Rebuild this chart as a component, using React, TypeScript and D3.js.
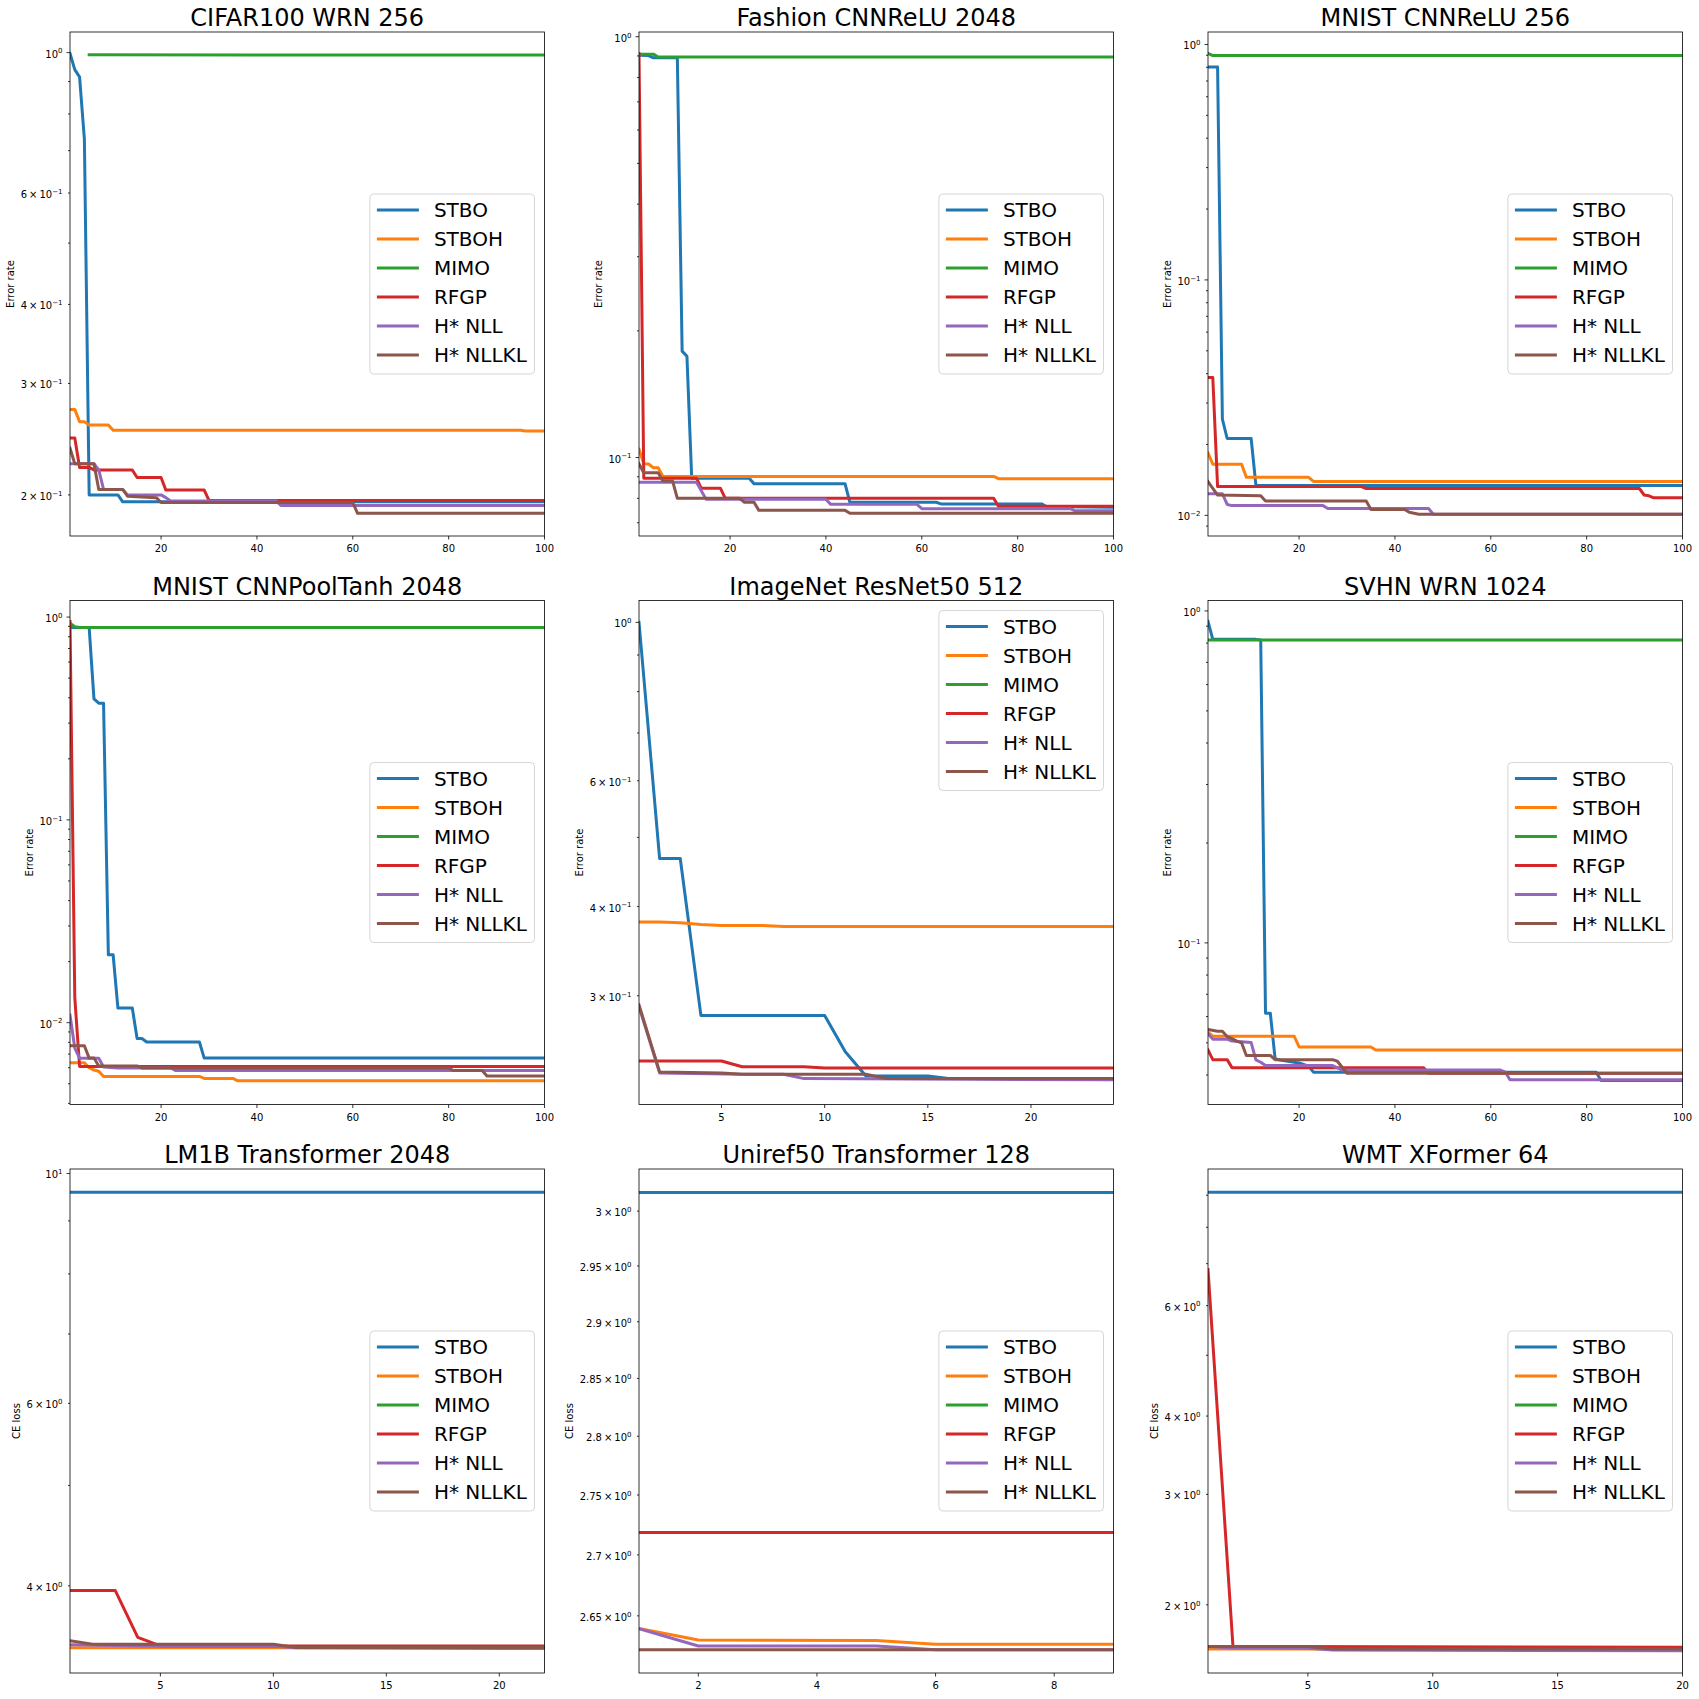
import React, { useEffect, useRef } from 'react';
import * as d3 from 'd3';

type Pt = [number, number];

const seriesNames = ['STBO', 'STBOH', 'MIMO', 'RFGP', 'H* NLL', 'H* NLLKL'];
const seriesColors = ['#1f77b4', '#ff7f0e', '#2ca02c', '#d62728', '#9467bd', '#8c564b'];

const panelTitles = [
  'CIFAR100 WRN 256',
  'Fashion CNNReLU 2048',
  'MNIST CNNReLU 256',
  'MNIST CNNPoolTanh 2048',
  'ImageNet ResNet50 512',
  'SVHN WRN 1024',
  'LM1B Transformer 2048',
  'Uniref50 Transformer 128',
  'WMT XFormer 64',
];
const panelYLabels = [
  'Error rate', 'Error rate', 'Error rate',
  'Error rate', 'Error rate', 'Error rate',
  'CE loss', 'CE loss', 'CE loss',
];

// each panel: [STBO, STBOH, MIMO, RFGP, H* NLL, H* NLLKL] as [trial, best value] vertices
const cifarWrn256: Pt[][] = [
  [[1, 0.997], [2, 0.94], [3, 0.915], [4, 0.73], [5, 0.2], [11, 0.2], [12, 0.195], [100, 0.195]],
  [[1, 0.273], [2, 0.273], [3, 0.261], [4, 0.261], [5, 0.258], [9, 0.258], [10, 0.253], [95, 0.253], [96, 0.2524], [100, 0.2524]],
  [[5, 0.992], [100, 0.991]],
  [[1, 0.246], [2, 0.246], [3, 0.221], [5, 0.221], [6, 0.219], [14, 0.219], [15, 0.213], [20, 0.213], [21, 0.2035], [29, 0.2035], [30, 0.196], [100, 0.196]],
  [[1, 0.224], [6, 0.224], [7, 0.219], [8, 0.204], [12, 0.204], [13, 0.2], [20, 0.2], [21, 0.198], [22, 0.1956], [44, 0.1956], [45, 0.1924], [100, 0.1924]],
  [[1, 0.237], [2, 0.224], [6, 0.224], [7, 0.204], [12, 0.204], [13, 0.199], [19, 0.198], [20, 0.1945], [60, 0.1945], [61, 0.187], [100, 0.187]],
];

const fashionCnnRelu2048: Pt[][] = [
  [[1, 0.904], [3, 0.902], [4, 0.891], [9, 0.891], [10, 0.179], [11, 0.174], [12, 0.0893], [24, 0.0893], [25, 0.0866], [44, 0.0866], [45, 0.0783], [63, 0.0783], [64, 0.0776], [85, 0.0776], [86, 0.0765], [100, 0.0762]],
  [[1, 0.1046], [2, 0.0967], [3, 0.0965], [4, 0.0946], [5, 0.0946], [6, 0.0902], [75, 0.0902], [76, 0.0891], [100, 0.0891]],
  [[1, 0.909], [4, 0.909], [5, 0.895], [100, 0.895]],
  [[1, 0.912], [2, 0.0893], [13, 0.0893], [14, 0.0845], [18, 0.0845], [19, 0.08], [75, 0.08], [76, 0.0766], [100, 0.0766]],
  [[1, 0.0873], [13, 0.0873], [15, 0.0796], [40, 0.0796], [41, 0.0774], [59, 0.0774], [60, 0.0756], [91, 0.0756], [92, 0.0747], [100, 0.0747]],
  [[1, 0.0967], [2, 0.092], [5, 0.092], [6, 0.088], [8, 0.088], [9, 0.08], [22, 0.08], [23, 0.0783], [25, 0.0783], [26, 0.0749], [44, 0.0749], [45, 0.0737], [100, 0.0737]],
];

const mnistCnnRelu256: Pt[][] = [
  [[1, 0.803], [3, 0.803], [4, 0.0256], [5, 0.0212], [10, 0.0212], [11, 0.0134], [100, 0.0134]],
  [[1, 0.0184], [2, 0.0165], [8, 0.0165], [9, 0.0145], [22, 0.0145], [23, 0.01393], [100, 0.01393]],
  [[1, 0.917], [2, 0.897], [100, 0.897]],
  [[1, 0.0385], [2, 0.0385], [3, 0.01325], [33, 0.01325], [34, 0.013], [91, 0.013], [92, 0.0122], [93, 0.0121], [94, 0.01187], [100, 0.01187]],
  [[1, 0.01235], [4, 0.01235], [5, 0.01112], [6, 0.011], [25, 0.011], [26, 0.0107], [47, 0.0107], [48, 0.0101], [100, 0.0101]],
  [[1, 0.0139], [3, 0.0122], [12, 0.0121], [13, 0.0115], [34, 0.0115], [35, 0.0106], [42, 0.0106], [43, 0.0103], [45, 0.0101], [100, 0.0101]],
];

const mnistCnnPoolTanh2048: Pt[][] = [
  [[1, 0.888], [5, 0.888], [6, 0.395], [7, 0.376], [8, 0.376], [9, 0.0216], [10, 0.0216], [11, 0.0118], [14, 0.0118], [15, 0.00836], [16, 0.00836], [17, 0.00803], [28, 0.00803], [29, 0.00669], [100, 0.00669]],
  [[1, 0.00635], [4, 0.00635], [5, 0.006], [6, 0.00584], [7, 0.00576], [8, 0.00543], [28, 0.00543], [29, 0.00531], [35, 0.00531], [36, 0.00517], [100, 0.00517]],
  [[1, 0.933], [2, 0.896], [3, 0.888], [100, 0.888]],
  [[1, 0.95], [2, 0.0133], [3, 0.00608], [100, 0.00608]],
  [[1, 0.0109], [2, 0.0075], [3, 0.00668], [7, 0.00668], [8, 0.00605], [11, 0.00598], [22, 0.00598], [23, 0.00581], [100, 0.00581]],
  [[1, 0.00769], [4, 0.00769], [5, 0.00669], [6, 0.00669], [7, 0.00612], [15, 0.00612], [16, 0.00598], [80, 0.00598], [81, 0.00581], [87, 0.00581], [88, 0.00546], [100, 0.00546]],
];

const imagenetResnet50512: Pt[][] = [
  [[1, 1.0], [2, 0.467], [3, 0.467], [4, 0.2816], [10, 0.2816], [11, 0.2505], [12, 0.2316], [15, 0.2316], [16, 0.2297], [24, 0.2297]],
  [[1, 0.3806], [2, 0.3806], [3, 0.3797], [4, 0.3776], [5, 0.3764], [7, 0.3764], [8, 0.375], [24, 0.375]],
  [],
  [[1, 0.2431], [5, 0.2431], [6, 0.2386], [9, 0.2386], [10, 0.2376], [24, 0.2376]],
  [[1, 0.2896], [2, 0.2339], [6, 0.233], [8, 0.233], [9, 0.2297], [24, 0.2288]],
  [[1, 0.2913], [2, 0.2347], [5, 0.2339], [6, 0.233], [12, 0.233], [13, 0.2297], [24, 0.2297]],
];

const svhnWrn1024: Pt[][] = [
  [[1, 0.93], [2, 0.821], [11, 0.821], [12, 0.817], [13, 0.0614], [14, 0.0614], [15, 0.0448], [16, 0.0444], [20, 0.0435], [22, 0.0425], [23, 0.0408], [82, 0.0408], [83, 0.0385], [100, 0.0385]],
  [[1, 0.0539], [2, 0.0523], [19, 0.0523], [20, 0.0486], [35, 0.0486], [36, 0.0476], [100, 0.0476]],
  [[1, 0.817], [100, 0.817]],
  [[1, 0.0476], [2, 0.0445], [5, 0.0445], [6, 0.0421], [46, 0.0421], [47, 0.0405], [100, 0.0405]],
  [[1, 0.0533], [2, 0.0513], [5, 0.0513], [6, 0.0506], [10, 0.0501], [11, 0.0444], [12, 0.0437], [13, 0.0427], [27, 0.0427], [29, 0.0414], [62, 0.0414], [63, 0.0409], [64, 0.0387], [100, 0.0387]],
  [[1, 0.0549], [3, 0.0542], [4, 0.0542], [5, 0.0522], [6, 0.0515], [7, 0.0506], [8, 0.05], [9, 0.0458], [14, 0.0458], [15, 0.0445], [27, 0.0445], [28, 0.044], [30, 0.0405], [100, 0.0405]],
];

const lm1bTransformer2048: Pt[][] = [
  [[1, 9.59], [22, 9.59]],
  [[1, 3.486], [22, 3.486]],
  [],
  [[1, 3.96], [3, 3.96], [4, 3.568], [5, 3.5], [22, 3.5]],
  [[1, 3.51], [5, 3.497], [10, 3.497], [11, 3.486], [22, 3.48]],
  [[1, 3.54], [2, 3.514], [10, 3.514], [11, 3.488], [22, 3.488]],
];

const uniref50Transformer128: Pt[][] = [
  [[1, 3.0172], [9, 3.0172]],
  [[1, 2.6397], [2, 2.6305], [5, 2.63], [6, 2.6271], [9, 2.6271]],
  [],
  [[1, 2.7186], [9, 2.7186]],
  [[1, 2.6397], [2, 2.6256], [5, 2.6256], [6, 2.6227], [9, 2.6227]],
  [[1, 2.6227], [9, 2.6227]],
];

const wmtXformer64: Pt[][] = [
  [[1, 9.095], [20, 9.095]],
  [[1, 1.7], [20, 1.7]],
  [],
  [[1, 6.85], [2, 1.716], [20, 1.712]],
  [[1, 1.716], [2, 1.707], [5, 1.705], [6, 1.694], [20, 1.69]],
  [[1, 1.716], [5, 1.716], [6, 1.7], [20, 1.7]],
];

const panelSeries = [
  cifarWrn256, fashionCnnRelu2048, mnistCnnRelu256,
  mnistCnnPoolTanh2048, imagenetResnet50512, svhnWrn1024,
  lm1bTransformer2048, uniref50Transformer128, wmtXformer64,
];

const xLimits: Pt[] = [[1, 100], [1, 100], [1, 100], [1, 100], [1, 24], [1, 100], [1, 22], [1, 9], [1, 20]];
const yLimits: Pt[] = [
  [0.1722, 1.078], [0.0651, 1.026], [0.00817, 1.13],
  [0.00395, 1.207], [0.2113, 1.073], [0.0326, 1.075],
  [3.296, 10.1], [2.604, 3.039], [1.557, 9.91],
];
const xTickValues: number[][] = [
  [20, 40, 60, 80, 100], [20, 40, 60, 80, 100], [20, 40, 60, 80, 100],
  [20, 40, 60, 80, 100], [5, 10, 15, 20], [20, 40, 60, 80, 100],
  [5, 10, 15, 20], [2, 4, 6, 8], [5, 10, 15, 20],
];
const yMajorTicks: number[][] = [[1], [0.1, 1], [0.01, 0.1, 1], [0.01, 0.1, 1], [1], [0.1, 1], [10], [], []];
const yLabeledMinorTicks: number[][] = [
  [0.2, 0.3, 0.4, 0.6], [], [],
  [], [0.3, 0.4, 0.6], [],
  [4, 6], [2.65, 2.7, 2.75, 2.8, 2.85, 2.9, 2.95, 3], [2, 3, 4, 6],
];
const autoMinorTicks = [true, true, true, true, true, true, true, false, true];
const legendPlacement = ['center', 'center', 'center', 'center', 'upper', 'center', 'center', 'center', 'center'];

// layout (pixels)
const FIG = 1699;
const AX_LEFT = 70;
const AX_TOP = 32;
const COL_PITCH = 569;
const ROW_PITCH = 568.5;
const AX_W = 474.5;
const AX_H = 504;
const FONT = "'DejaVu Sans', sans-serif";

const logMinors = (lim: Pt) => {
  const out: number[] = [];
  for (let e = Math.floor(Math.log10(lim[0])); e <= Math.ceil(Math.log10(lim[1])); e++) {
    for (let k = 2; k <= 9; k++) {
      const v = k * Math.pow(10, e);
      if (v >= lim[0] && v <= lim[1]) out.push(v);
    }
  }
  return out;
};

const near = (a: number, list: number[]) => list.some((b) => Math.abs(a - b) / b < 1e-6);

const App = () => {
  const ref = useRef<SVGSVGElement>(null);

  useEffect(() => {
    const svg = d3.select(ref.current);
    svg.selectAll('*').remove();

    panelSeries.forEach((series, i) => {
      const col = i % 3;
      const row = Math.floor(i / 3);
      const g = svg
        .append('g')
        .attr('transform', `translate(${AX_LEFT + col * COL_PITCH},${AX_TOP + row * ROW_PITCH})`);

      const x = d3.scaleLinear().domain(xLimits[i]).range([0, AX_W]);
      const y = d3.scaleLog().domain(yLimits[i]).range([AX_H, 0]);

      g.append('clipPath')
        .attr('id', `clip-${i}`)
        .append('rect')
        .attr('width', AX_W)
        .attr('height', AX_H);

      const line = d3
        .line<Pt>()
        .x((d) => x(d[0]))
        .y((d) => y(d[1]));

      const plot = g.append('g').attr('clip-path', `url(#clip-${i})`);
      series.forEach((pts, s) => {
        if (!pts.length) return;
        plot
          .append('path')
          .datum(pts)
          .attr('d', line)
          .attr('fill', 'none')
          .attr('stroke', seriesColors[s])
          .attr('stroke-width', 3)
          .attr('stroke-linejoin', 'round')
          .attr('stroke-linecap', 'square');
      });

      g.append('rect')
        .attr('width', AX_W)
        .attr('height', AX_H)
        .attr('fill', 'none')
        .attr('stroke', '#000')
        .attr('stroke-width', 0.8);

      // x axis
      const xt = g.append('g').attr('transform', `translate(0,${AX_H})`);
      xTickValues[i].forEach((t) => {
        xt.append('line')
          .attr('x1', x(t))
          .attr('x2', x(t))
          .attr('y1', 0)
          .attr('y2', 3.5)
          .attr('stroke', '#000')
          .attr('stroke-width', 0.8);
        xt.append('text')
          .attr('x', x(t))
          .attr('y', 16)
          .attr('text-anchor', 'middle')
          .attr('font-family', FONT)
          .attr('font-size', 10)
          .attr('fill', '#000')
          .text(t);
      });

      // y axis (log)
      const yt = g.append('g');
      const labelGroup = yt.append('g');
      const minors = autoMinorTicks[i] ? logMinors(yLimits[i]) : yLabeledMinorTicks[i];
      const addTick = (v: number, len: number, labeled: boolean) => {
        yt.append('line')
          .attr('x1', -len)
          .attr('x2', 0)
          .attr('y1', y(v))
          .attr('y2', y(v))
          .attr('stroke', '#000')
          .attr('stroke-width', 0.8);
        if (!labeled) return;
        const e = Math.floor(Math.log10(v) + 1e-9);
        const m = +(v / Math.pow(10, e)).toFixed(2);
        const base = Math.abs(m - 1) < 1e-9 ? '10' : `${m}\u2009\u00d7\u200910`;
        const txt = labelGroup
          .append('text')
          .attr('x', -7.5)
          .attr('y', y(v) + 5)
          .attr('text-anchor', 'end')
          .attr('font-family', FONT)
          .attr('font-size', 10)
          .attr('fill', '#000');
        txt.append('tspan').text(base);
        txt.append('tspan')
          .attr('font-size', 7)
          .attr('dy', -4.2)
          .text(e < 0 ? `\u2212${-e}` : `${e}`);
      };
      yMajorTicks[i].forEach((v) => addTick(v, 3.5, true));
      minors.forEach((v) => addTick(v, 2, near(v, yLabeledMinorTicks[i])));

      const bb = (labelGroup.node() as SVGGElement).getBBox();
      const labelX = bb.x - 4 - 2.4;
      g.append('text')
        .attr('transform', `translate(${labelX},${AX_H / 2}) rotate(-90)`)
        .attr('text-anchor', 'middle')
        .attr('font-family', FONT)
        .attr('font-size', 10)
        .attr('fill', '#000')
        .text(panelYLabels[i]);

      // title
      g.append('text')
        .attr('x', AX_W / 2)
        .attr('y', -6)
        .attr('text-anchor', 'middle')
        .attr('font-family', FONT)
        .attr('font-size', 24)
        .attr('fill', '#000')
        .text(panelTitles[i]);

      // legend
      const lw = 164.6;
      const lh = 180;
      const lx = AX_W - 10 - lw;
      const ly = legendPlacement[i] === 'upper' ? 10 : (AX_H - lh) / 2;
      const lg = g.append('g').attr('transform', `translate(${lx},${ly})`);
      lg.append('rect')
        .attr('width', lw)
        .attr('height', lh)
        .attr('rx', 4)
        .attr('fill', '#fff')
        .attr('fill-opacity', 0.8)
        .attr('stroke', '#cccccc')
        .attr('stroke-opacity', 0.8)
        .attr('stroke-width', 1);
      seriesNames.forEach((name, s) => {
        const cy = 16 + s * 29;
        lg.append('line')
          .attr('x1', 7)
          .attr('x2', 49)
          .attr('y1', cy)
          .attr('y2', cy)
          .attr('stroke', seriesColors[s])
          .attr('stroke-width', 3);
        lg.append('text')
          .attr('x', 64)
          .attr('y', cy + 7)
          .attr('font-family', FONT)
          .attr('font-size', 20)
          .attr('fill', '#000')
          .text(name);
      });
    });
  }, []);

  return (
    <svg
      ref={ref}
      width={FIG}
      height={FIG}
      style={{ position: 'absolute', left: 0, top: 0, background: '#fff' }}
    />
  );
};

export default App;
